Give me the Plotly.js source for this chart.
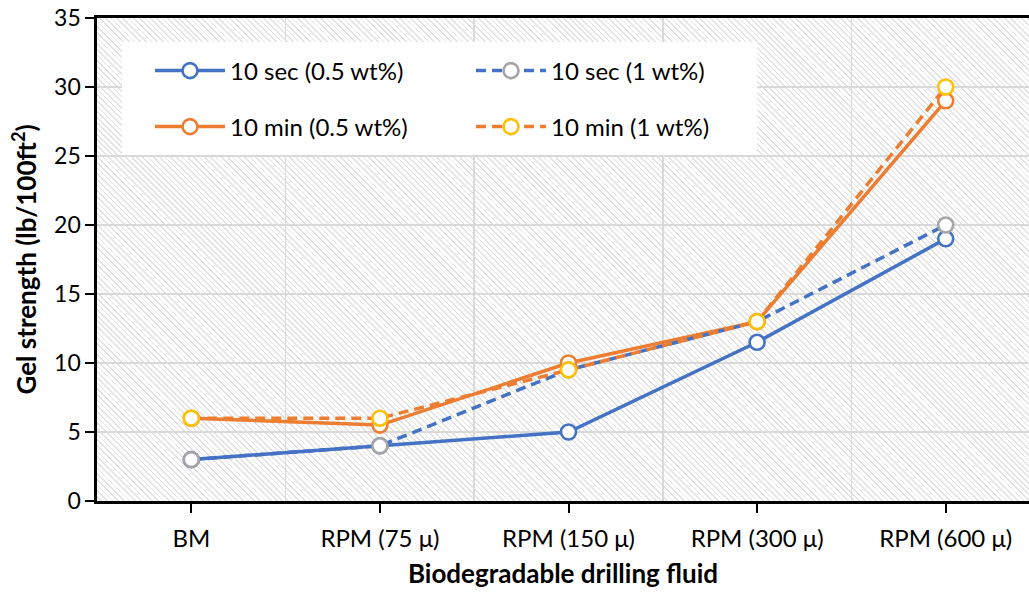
<!DOCTYPE html>
<html>
<head>
<meta charset="utf-8">
<script src="https://cdn.plot.ly/plotly-3.0.1.min.js"></script>
<style>
  html, body { margin: 0; padding: 0; background: #ffffff; }
  #wrap { position: relative; width: 1029px; height: 592px; }
  #hatch { position: absolute; left: 97px; top: 18px; width: 932px; height: 483px;
    background: repeating-linear-gradient(45deg, #ffffff 0px, #ffffff 2.8px, #e2e2e2 2.8px, #e2e2e2 4px); }
  #chart { position: absolute; left: 0; top: 0; width: 1029px; height: 592px; }
</style>
</head>
<body>
<div id="wrap"><div id="hatch"></div><div id="chart"></div></div>
<script>
const categories = ["BM", "RPM (75 μ)", "RPM (150 μ)", "RPM (300 μ)", "RPM (600 μ)"];
const sec05 = [3, 4, 5, 11.5, 19];
const min05 = [6, 5.5, 10, 13, 29];
const sec1  = [3, 4, 9.5, 13, 20];
const min1  = [6, 6, 9.5, 13, 30];
const yTicks = [0, 5, 10, 15, 20, 25, 30, 35];

const xIdx = categories.map((c, i) => i);
const boundaries = categories.slice(1).map((c, i) => i + 0.5);

const W = 1029, H = 592, ML = 97, MT = 18, MB = 91, MR = 0;
const PW = W - ML - MR, PH = H - MT - MB;
const CAT = 188.6;
const xRange = [-0.5, -0.5 + PW / CAT];
const yRange = [0, 35];
const px2xd = p => xRange[0] + (p - ML) / PW * (xRange[1] - xRange[0]);
const py2yd = p => yRange[0] + (H - MB - p) / PH * (yRange[1] - yRange[0]);
const px2x = p => (p - ML) / PW;
const py2y = p => (H - MB - p) / PH;

function mk(name, y, color, mcolor, dash, legend) {
  return {
    type: 'scatter', mode: 'lines+markers', name: name, x: xIdx, y: y,
    line: { color: color, width: 3.5, dash: dash },
    marker: { symbol: 'circle', size: 15, color: '#ffffff', line: { color: mcolor, width: 2.6 } },
    legend: legend
  };
}
const traces = [
  mk('10 sec (0.5 wt%)', sec05, '#4472C4', '#4472C4', 'solid', 'legend'),
  mk('10 min (0.5 wt%)', min05, '#ED7D31', '#ED7D31', 'solid', 'legend2'),
  mk('10 sec (1 wt%)', sec1, '#4472C4', '#A5A5A5', '10px,6px', 'legend'),
  mk('10 min (1 wt%)', min1, '#ED7D31', '#FFC000', '10px,6px', 'legend2')
];

const font = { family: 'Lato, "Open Sans", sans-serif', color: '#000000' };
const legendCommon = {
  orientation: 'h', bgcolor: 'rgba(0,0,0,0)', borderwidth: 0,
  font: Object.assign({}, font, { size: 24 }),
  entrywidth: 236, entrywidthmode: 'pixels',
  xanchor: 'left', yanchor: 'middle', itemwidth: 70
};

const layout = {
  width: W, height: H,
  margin: { l: ML, r: MR, t: MT, b: MB, pad: 0 },
  paper_bgcolor: 'rgba(0,0,0,0)', plot_bgcolor: 'rgba(0,0,0,0)',
  font: Object.assign({}, font, { size: 23 }),
  showlegend: true,
  xaxis: {
    type: 'linear', range: xRange, fixedrange: true,
    tickvals: xIdx, ticktext: categories,
    ticks: 'outside', ticklen: 9, tickwidth: 2, tickcolor: '#000000',
    ticklabelstandoff: 6,
    showgrid: false, zeroline: false,
    showline: true, linecolor: '#000000', linewidth: 2.6, mirror: true,
    minor: { tickvals: boundaries, showgrid: true, gridcolor: '#d9d9d9', gridwidth: 1.5, ticks: '' },
    tickfont: Object.assign({}, font, { size: 24 }),
    title: { text: '<b>Biodegradable drilling fluid</b>', font: Object.assign({}, font, { size: 26 }), standoff: 14 }
  },
  yaxis: {
    range: yRange, fixedrange: true,
    tickvals: yTicks, ticks: 'outside', ticklen: 9, tickwidth: 2, tickcolor: '#000000',
    showgrid: true, gridcolor: '#d9d9d9', gridwidth: 1.5, zeroline: false,
    showline: true, linecolor: '#000000', linewidth: 2.6,
    tickfont: Object.assign({}, font, { size: 23 }),
    title: { text: '<b>Gel strength (lb/100ft<sup>2</sup>)</b>', font: Object.assign({}, font, { size: 26 }), standoff: 10 }
  },
  shapes: [{
    type: 'rect', xref: 'x', yref: 'y', layer: 'between',
    x0: px2xd(122), x1: px2xd(757), y0: py2yd(155), y1: py2yd(42),
    fillcolor: '#ffffff', line: { width: 0 }
  }],
  legend: Object.assign({}, legendCommon, { x: px2x(150), y: py2y(71) }),
  legend2: Object.assign({}, legendCommon, { x: px2x(150), y: py2y(127) })
};

Plotly.newPlot('chart', traces, layout, { displayModeBar: false, staticPlot: true });
</script>
</body>
</html>
